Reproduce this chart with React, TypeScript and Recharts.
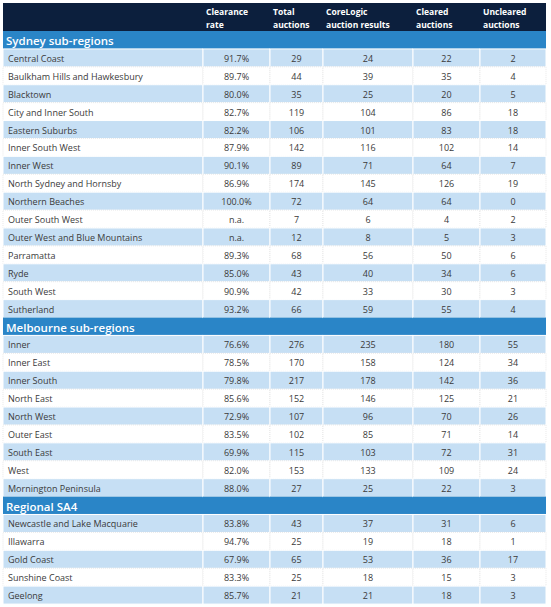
import React from "react";
import { BarChart, Bar, XAxis, YAxis } from "recharts";

const columnHeaders = [
  ["", ""],
  ["Clearance", "rate"],
  ["Total", "auctions"],
  ["CoreLogic", "auction results"],
  ["Cleared", "auctions"],
  ["Uncleared", "auctions"],
];

const sectionTitles = ["Sydney sub-regions", "Melbourne sub-regions", "Regional SA4"];

const sydneyRegions = [
  "Central Coast",
  "Baulkham Hills and Hawkesbury",
  "Blacktown",
  "City and Inner South",
  "Eastern Suburbs",
  "Inner South West",
  "Inner West",
  "North Sydney and Hornsby",
  "Northern Beaches",
  "Outer South West",
  "Outer West and Blue Mountains",
  "Parramatta",
  "Ryde",
  "South West",
  "Sutherland",
];

const melbourneRegions = [
  "Inner",
  "Inner East",
  "Inner South",
  "North East",
  "North West",
  "Outer East",
  "South East",
  "West",
  "Mornington Peninsula",
];

const regionalRegions = ["Newcastle and Lake Macquarie", "Illawarra", "Gold Coast", "Sunshine Coast", "Geelong"];

// values in row order: Sydney, Melbourne, Regional (null = n.a.)
const clearanceRate = [
  91.7, 89.7, 80.0, 82.7, 82.2, 87.9, 90.1, 86.9, 100.0, null, null, 89.3, 85.0, 90.9, 93.2,
  76.6, 78.5, 79.8, 85.6, 72.9, 83.5, 69.9, 82.0, 88.0,
  83.8, 94.7, 67.9, 83.3, 85.7,
];
const totalAuctions = [
  29, 44, 35, 119, 106, 142, 89, 174, 72, 7, 12, 68, 43, 42, 66,
  276, 170, 217, 152, 107, 102, 115, 153, 27,
  43, 25, 65, 25, 21,
];
const coreLogicResults = [
  24, 39, 25, 104, 101, 116, 71, 145, 64, 6, 8, 56, 40, 33, 59,
  235, 158, 178, 146, 96, 85, 103, 133, 25,
  37, 19, 53, 18, 21,
];
const clearedAuctions = [
  22, 35, 20, 86, 83, 102, 64, 126, 64, 4, 5, 50, 34, 30, 55,
  180, 124, 142, 125, 70, 71, 72, 109, 22,
  31, 18, 36, 15, 18,
];
const unclearedAuctions = [
  2, 4, 5, 18, 18, 14, 7, 19, 0, 2, 3, 6, 6, 3, 4,
  55, 34, 36, 21, 26, 14, 31, 24, 3,
  6, 1, 17, 3, 3,
];

const COL_WIDTHS = [200, 67, 53, 90, 67, 66];
const NAVY = "#0c1f3d";
const BAND = "#2a85c7";
const STRIPE = "#c6dff4";
const TEXT = "#3a3a3a";
const FONT = "'Open Sans', sans-serif";

type Row = { key: string; kind: "section" | "row"; stripe: boolean; title?: string; cells: string[] };

const rows: Row[] = [];
{
  let k = 0;
  [sydneyRegions, melbourneRegions, regionalRegions].forEach((names, s) => {
    rows.push({ key: "s" + s, kind: "section", stripe: false, title: sectionTitles[s], cells: [] });
    names.forEach((name, i) => {
      const rate = clearanceRate[k];
      rows.push({
        key: "r" + k,
        kind: "row",
        stripe: i % 2 === 0,
        cells: [
          name,
          rate == null ? "n.a." : rate.toFixed(1) + "%",
          String(totalAuctions[k]),
          String(coreLogicResults[k]),
          String(clearedAuctions[k]),
          String(unclearedAuctions[k]),
        ],
      });
      k++;
    });
  });
}

const headerRow = [{ key: "header" }];

const bodyShape = (ci: number) => (p: any) => {
  const { x, y, width, height } = p;
  const row: Row = p.payload && p.payload.kind ? p.payload : rows[p.index];
  if (row.kind === "section") {
    return (
      <g>
        <rect x={x} y={y} width={width} height={height} fill={BAND} />
        {ci === 0 && (
          <text x={x + 3} y={y + height / 2 + 0.5} dominantBaseline="central" fill="#ffffff" fontSize={11.5} fontWeight={600} fontFamily={FONT}>
            {row.title}
          </text>
        )}
      </g>
    );
  }
  return (
    <g>
      <rect
        x={x}
        y={y}
        width={width}
        height={height}
        fill={row.stripe ? STRIPE : "#ffffff"}
        stroke={row.stripe ? "#ffffff" : "#dadada"}
        strokeWidth={row.stripe ? 1 : 0.6}
        strokeDasharray={row.stripe ? undefined : "1 1"}
      />
      <text
        x={ci === 0 ? x + 5 : x + width / 2}
        y={y + height / 2 + 0.5}
        textAnchor={ci === 0 ? "start" : "middle"}
        dominantBaseline="central"
        fill={TEXT}
        fontSize={9}
        fontFamily={FONT}
      >
        {row.cells[ci]}
      </text>
    </g>
  );
};

const headerShape = (ci: number) => (p: any) => {
  const { x, y, width, height } = p;
  const [l1, l2] = columnHeaders[ci];
  return (
    <g>
      <rect x={x} y={y} width={width} height={height} fill={NAVY} />
      <text x={x + 3} y={y + 8} dominantBaseline="central" fill="#ffffff" fontSize={8.5} fontWeight={700} fontFamily={FONT}>
        {l1}
      </text>
      <text x={x + 3} y={y + 21.5} dominantBaseline="central" fill="#ffffff" fontSize={8.5} fontWeight={700} fontFamily={FONT}>
        {l2}
      </text>
    </g>
  );
};

export default function App() {
  return (
    <div style={{ position: "absolute", left: 0, top: 0, width: 551, height: 607, background: "#ffffff" }}>
      <BarChart
        width={551}
        height={31}
        data={headerRow}
        layout="vertical"
        margin={{ top: 3, right: 0, left: 0, bottom: 0 }}
        barCategoryGap={0}
        barGap={0}
      >
        <XAxis type="number" domain={[-3, 548]} hide allowDataOverflow />
        <YAxis type="category" dataKey="key" hide />
        {COL_WIDTHS.map((w, ci) => (
          <Bar key={ci} dataKey={() => w} stackId="h" shape={headerShape(ci)} isAnimationActive={false} />
        ))}
      </BarChart>
      <BarChart
        width={551}
        height={576}
        data={rows}
        layout="vertical"
        margin={{ top: 0, right: 0, left: 0, bottom: 3 }}
        barCategoryGap={0}
        barGap={0}
      >
        <XAxis type="number" domain={[-3, 548]} hide allowDataOverflow />
        <YAxis type="category" dataKey="key" hide />
        {COL_WIDTHS.map((w, ci) => (
          <Bar key={ci} dataKey={() => w} stackId="r" shape={bodyShape(ci)} isAnimationActive={false} />
        ))}
      </BarChart>
    </div>
  );
}
